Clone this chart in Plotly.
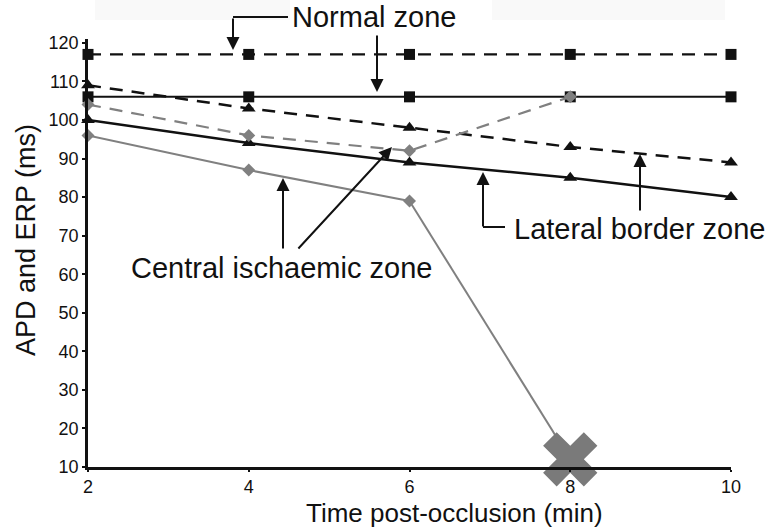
import plotly.graph_objects as go

# ---------------- data ----------------
time_min = [2, 4, 6, 8, 10]
normal_erp = [117, 117, 117, 117, 117]          # dashed, squares
normal_apd = [106, 106, 106, 106, 106]          # solid, squares
lateral_erp = [109, 103, 98, 93, 89]            # dashed, triangles
lateral_apd = [100, 94, 89, 85, 80]             # solid, triangles
central_time_erp = [2, 4, 6, 8]
central_erp = [104, 96, 92, 106]                # gray dashed, diamonds
central_time_apd = [2, 4, 6]
central_apd = [96, 87, 79]                      # gray solid, diamonds
central_block_time = [6, 8]
central_block_val = [79, 12]                    # to conduction block (X)
x_ticks = [2, 4, 6, 8, 10]
y_ticks = [10, 20, 30, 40, 50, 60, 70, 80, 90, 100, 110, 120]

FONT = "Liberation Sans, Arial, sans-serif"
BLACK = "#111111"
GRAY = "#808080"

# plot-area geometry (pixels) used for annotations
W, H = 769, 531
L, R, T, B = 88, 731, 39, 467


def px(x):
    return (x - L) / (R - L)


def py(y):
    return (B - y) / (B - T)


fig = go.Figure()

fig.add_trace(go.Scatter(x=time_min, y=normal_erp, mode="lines+markers",
                         line=dict(color=BLACK, width=2.2, dash="13px,9px"),
                         marker=dict(symbol="square", size=11, color=BLACK),
                         cliponaxis=False))
fig.add_trace(go.Scatter(x=time_min, y=normal_apd, mode="lines+markers",
                         line=dict(color=BLACK, width=2),
                         marker=dict(symbol="square", size=11, color=BLACK),
                         cliponaxis=False))
fig.add_trace(go.Scatter(x=time_min, y=lateral_erp, mode="lines+markers",
                         line=dict(color=BLACK, width=2.5, dash="13px,9px"),
                         marker=dict(symbol="triangle-up", size=12, color=BLACK),
                         cliponaxis=False))
fig.add_trace(go.Scatter(x=time_min, y=lateral_apd, mode="lines+markers",
                         line=dict(color=BLACK, width=2.5),
                         marker=dict(symbol="triangle-up", size=12, color=BLACK),
                         cliponaxis=False))
fig.add_trace(go.Scatter(x=central_time_erp, y=central_erp, mode="lines+markers",
                         line=dict(color=GRAY, width=2.2, dash="13px,9px"),
                         marker=dict(symbol="diamond", size=10, color=GRAY),
                         cliponaxis=False))
fig.add_trace(go.Scatter(x=central_time_apd, y=central_apd, mode="lines+markers",
                         line=dict(color=GRAY, width=2),
                         marker=dict(symbol="diamond", size=10, color=GRAY),
                         cliponaxis=False))
fig.add_trace(go.Scatter(x=central_block_time, y=central_block_val, mode="lines",
                         line=dict(color=GRAY, width=2), cliponaxis=False))
fig.add_trace(go.Scatter(x=central_block_time[-1:], y=central_block_val[-1:], mode="markers",
                         marker=dict(symbol="x", size=48, color="#7a7a7a",
                                     line=dict(width=0)),
                         cliponaxis=False))

shapes = []
# faint background boxes at the top
for x0, x1 in [(95, 290), (492, 725)]:
    shapes.append(dict(type="rect", xref="paper", yref="paper",
                       x0=px(x0), x1=px(x1), y0=py(20), y1=py(0),
                       fillcolor="#f9f9f9", line=dict(width=0), layer="below"))
# horizontal legs of bent arrows
shapes.append(dict(type="line", xref="paper", yref="paper",
                   x0=px(233), x1=px(288), y0=py(17), y1=py(17),
                   line=dict(color=BLACK, width=2)))
shapes.append(dict(type="line", xref="paper", yref="paper",
                   x0=px(483), x1=px(505), y0=py(227), y1=py(227),
                   line=dict(color=BLACK, width=2)))

annotations = []


def arrow(tipx, tipy, tailx, taily):
    annotations.append(dict(xref="paper", yref="paper", x=px(tipx), y=py(tipy),
                            ax=tailx - tipx, ay=taily - tipy, axref="pixel", ayref="pixel",
                            text="", showarrow=True, arrowhead=2, arrowsize=1.3,
                            arrowwidth=2, arrowcolor=BLACK, standoff=0))


arrow(233, 50, 233, 17)
arrow(377, 92, 377, 34)
arrow(483, 172, 483, 228)
arrow(640, 154, 640, 212)
arrow(283, 178, 283, 250)
arrow(392, 147, 297, 250)


def label(text, cx, cy, size=29, angle=0):
    annotations.append(dict(xref="paper", yref="paper", x=px(cx), y=py(cy),
                            text=text, showarrow=False, textangle=angle,
                            xanchor="center", yanchor="middle",
                            font=dict(family=FONT, size=size, color=BLACK)))


label("Normal zone", 374, 17)
label("Lateral border zone", 640, 229)
label("Central ischaemic zone", 281, 268)
label("Time post-occlusion (min)", 454, 513, size=26)
label("APD and ERP (ms)", 26, 240, size=27, angle=-90)

fig.update_layout(
    width=W, height=H,
    margin=dict(l=L, r=W - R, t=T, b=H - B, pad=0),
    paper_bgcolor="white", plot_bgcolor="white",
    showlegend=False,
    font=dict(family=FONT, color=BLACK),
    shapes=shapes, annotations=annotations,
    xaxis=dict(range=[2, 10], tickvals=x_ticks, ticktext=[str(v) for v in x_ticks],
               showgrid=False, zeroline=False, showline=True, linecolor=BLACK,
               linewidth=2.5, ticks="outside", ticklen=2, tickwidth=1.5, tickcolor=BLACK,
               tickfont=dict(family=FONT, size=18, color=BLACK)),
    yaxis=dict(range=[10, 121], tickvals=y_ticks, ticktext=[str(v) for v in y_ticks],
               showgrid=False, zeroline=False, showline=True, linecolor=BLACK,
               linewidth=2.5, ticks="outside", ticklen=3, tickwidth=1.5, tickcolor=BLACK,
               tickfont=dict(family=FONT, size=18, color=BLACK)),
)

fig.write_html("out.html", config={"displayModeBar": False},
               post_script="document.body.style.margin='0';")
